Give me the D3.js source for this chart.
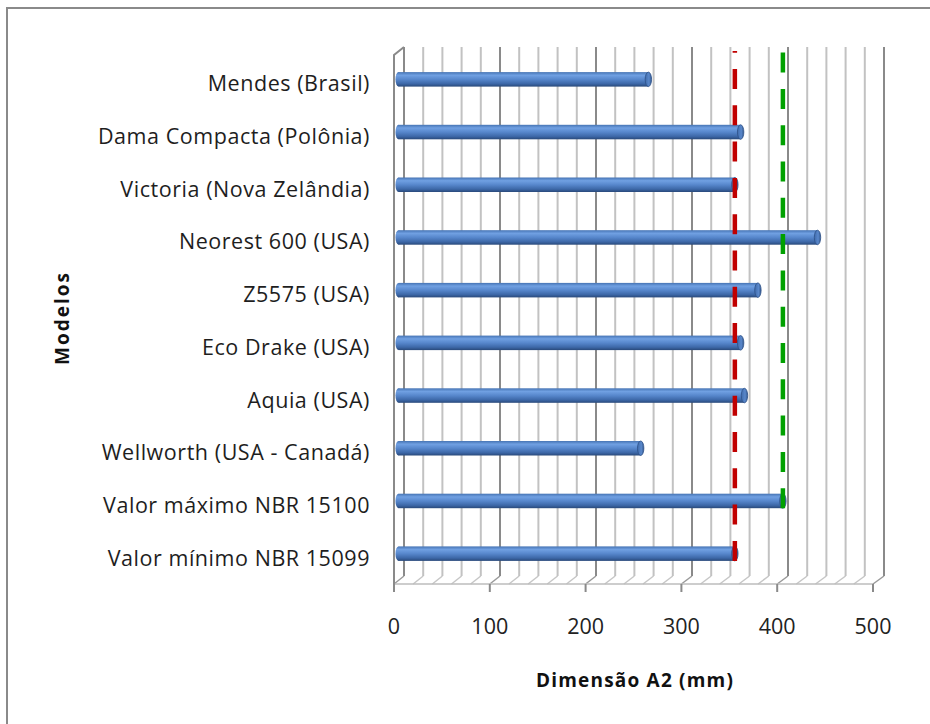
<!DOCTYPE html>
<html>
<head>
<meta charset="utf-8">
<script src="https://cdn.jsdelivr.net/npm/d3@7"></script>
<style>
  html, body { margin: 0; padding: 0; background: #fff; }
  svg { display: block; }
</style>
</head>
<body>
<svg id="chart" width="930" height="724"></svg>
<script>
// Models compared (top to bottom) and their A2 dimension in mm
const categories = [
  "Mendes (Brasil)",
  "Dama Compacta (Polônia)",
  "Victoria (Nova Zelândia)",
  "Neorest 600 (USA)",
  "Z5575 (USA)",
  "Eco Drake (USA)",
  "Aquia (USA)",
  "Wellworth (USA - Canadá)",
  "Valor máximo NBR 15100",
  "Valor mínimo NBR 15099"
];
const values = [260, 356, 350, 436, 374, 356, 360, 252, 400, 350];

// Normative limits drawn as dashed guide lines
const limitMin = 350;   // NBR 15099
const limitMax = 400;   // NBR 15100

const tickValues = [0, 100, 200, 300, 400, 500];
const gridValues = d3.range(0, 501, 20);

const xTitle = "Dimensão A2 (mm)";
const yTitle = "Modelos";

const svg = d3.select("#chart");

// chart frame (only left and top edges fall inside the page)
svg.append("rect")
  .attr("x", 7).attr("y", 8).attr("width", 940).attr("height", 740)
  .attr("fill", "#fff").attr("stroke", "#8a8a8a").attr("stroke-width", 2);

// 3D-ish geometry: front plane, back plane and bar plane
const depthX = 10, depthY = 8;
const floorFront = 584, floorBack = floorFront - depthY;
const topBack = 47;
const xFront = d3.scaleLinear().domain([0, 500]).range([394, 873]);
const xBack = d3.scaleLinear().domain([0, 500]).range([394 + depthX, 873 + depthX + 1]);
const xBar = d3.scaleLinear().domain([0, 500]).range([398.5, 879]);
const y = d3.scaleBand().domain(categories).range([53, 580]).padding(0);
const barH = 14.5;

// back-wall gridlines
const grid = svg.append("g");
grid.selectAll("line.g").data(gridValues).join("line")
  .attr("x1", d => xBack(d)).attr("x2", d => xBack(d))
  .attr("y1", topBack).attr("y2", floorBack)
  .attr("stroke", d => d % 100 === 0 ? "#8a8a8a" : "#c2c2c2")
  .attr("stroke-width", 2);

// floor diagonals
grid.selectAll("line.f").data(gridValues).join("line")
  .attr("x1", d => xFront(d)).attr("y1", floorFront)
  .attr("x2", d => xBack(d)).attr("y2", floorBack)
  .attr("stroke", d => d % 100 === 0 ? "#9a9a9a" : "#c6c6c6")
  .attr("stroke-width", 1.5);

// floor front edge
grid.append("line")
  .attr("x1", xFront(0)).attr("x2", xFront(500))
  .attr("y1", floorFront).attr("y2", floorFront)
  .attr("stroke", "#bdbdbd").attr("stroke-width", 1.5);

// left wall
grid.append("path")
  .attr("d", `M${xFront(0)},${floorFront + 8} L${xFront(0)},${topBack + depthY} L${xBack(0)},${topBack}`)
  .attr("fill", "none").attr("stroke", "#8a8a8a").attr("stroke-width", 2);

// x tick marks
grid.selectAll("line.t").data(tickValues).join("line")
  .attr("x1", d => xFront(d)).attr("x2", d => xFront(d))
  .attr("y1", floorFront).attr("y2", floorFront + 8)
  .attr("stroke", "#8a8a8a").attr("stroke-width", 2);

// cylinder shading
const defs = svg.append("defs");
const gBody = defs.append("linearGradient").attr("id", "cyl")
  .attr("x1", 0).attr("y1", 0).attr("x2", 0).attr("y2", 1);
[["0%", "#4674b4"], ["22%", "#70a0e2"], ["50%", "#5787cc"], ["80%", "#3d68a8"], ["100%", "#29497a"]]
  .forEach(([o, c]) => gBody.append("stop").attr("offset", o).attr("stop-color", c));
const gCap = defs.append("linearGradient").attr("id", "cap")
  .attr("x1", 0).attr("y1", 0).attr("x2", 1).attr("y2", 0);
[["0%", "#3f6bab"], ["60%", "#5a88cb"], ["100%", "#34598f"]]
  .forEach(([o, c]) => gCap.append("stop").attr("offset", o).attr("stop-color", c));

// bars
const bars = svg.append("g").selectAll("g").data(categories).join("g")
  .attr("transform", d => `translate(0,${y(d) + y.bandwidth() / 2})`);
bars.append("ellipse")
  .attr("cx", xBar(0)).attr("cy", 0).attr("rx", 3).attr("ry", barH / 2)
  .attr("fill", "url(#cyl)");
bars.append("rect")
  .attr("x", xBar(0)).attr("y", -barH / 2)
  .attr("width", (d, i) => xBar(values[i]) - xBar(0)).attr("height", barH)
  .attr("fill", "url(#cyl)");
bars.append("ellipse")
  .attr("cx", (d, i) => xBar(values[i])).attr("cy", 0)
  .attr("rx", 3.2).attr("ry", barH / 2)
  .attr("fill", "url(#cap)").attr("stroke", "#2d5088").attr("stroke-width", 0.8);

// dashed limit lines, dash pattern starting from the limit bar
function limitLine(value, cat, color) {
  const yb = y(cat) + y.bandwidth() / 2 + barH / 2;
  svg.append("line")
    .attr("x1", xBar(value)).attr("x2", xBar(value))
    .attr("y1", yb).attr("y2", 51)
    .attr("stroke", color).attr("stroke-width", 4.5)
    .attr("stroke-dasharray", "20,16.3");
}
limitLine(limitMin, categories[9], "#c00000");
limitLine(limitMax, categories[8], "#00a000");

// category labels
svg.append("g").selectAll("text").data(categories).join("text")
  .attr("x", 370)
  .attr("y", d => y(d) + y.bandwidth() / 2 + 12)
  .attr("text-anchor", "end")
  .attr("font-family", "'Open Sans', sans-serif")
  .attr("font-size", 21.5)
  .attr("letter-spacing", 0.55)
  .attr("fill", "#1e1e1e")
  .text(d => d);

// x tick labels
svg.append("g").selectAll("text").data(tickValues).join("text")
  .attr("x", d => xFront(d)).attr("y", 634)
  .attr("text-anchor", "middle")
  .attr("font-family", "'Open Sans', sans-serif")
  .attr("font-size", 21.5)
  .attr("fill", "#222")
  .text(d => d);

// axis titles
svg.append("text")
  .attr("x", 635).attr("y", 687)
  .attr("text-anchor", "middle")
  .attr("font-family", "'Open Sans', sans-serif")
  .attr("font-weight", "bold")
  .attr("font-size", 19)
  .attr("letter-spacing", 1.2)
  .attr("fill", "#111")
  .text(xTitle);

svg.append("text")
  .attr("transform", "translate(69,318) rotate(-90)")
  .attr("text-anchor", "middle")
  .attr("font-family", "'Open Sans', sans-serif")
  .attr("font-weight", "bold")
  .attr("font-size", 19)
  .attr("letter-spacing", 2)
  .attr("fill", "#111")
  .text(yTitle);
</script>
</body>
</html>
